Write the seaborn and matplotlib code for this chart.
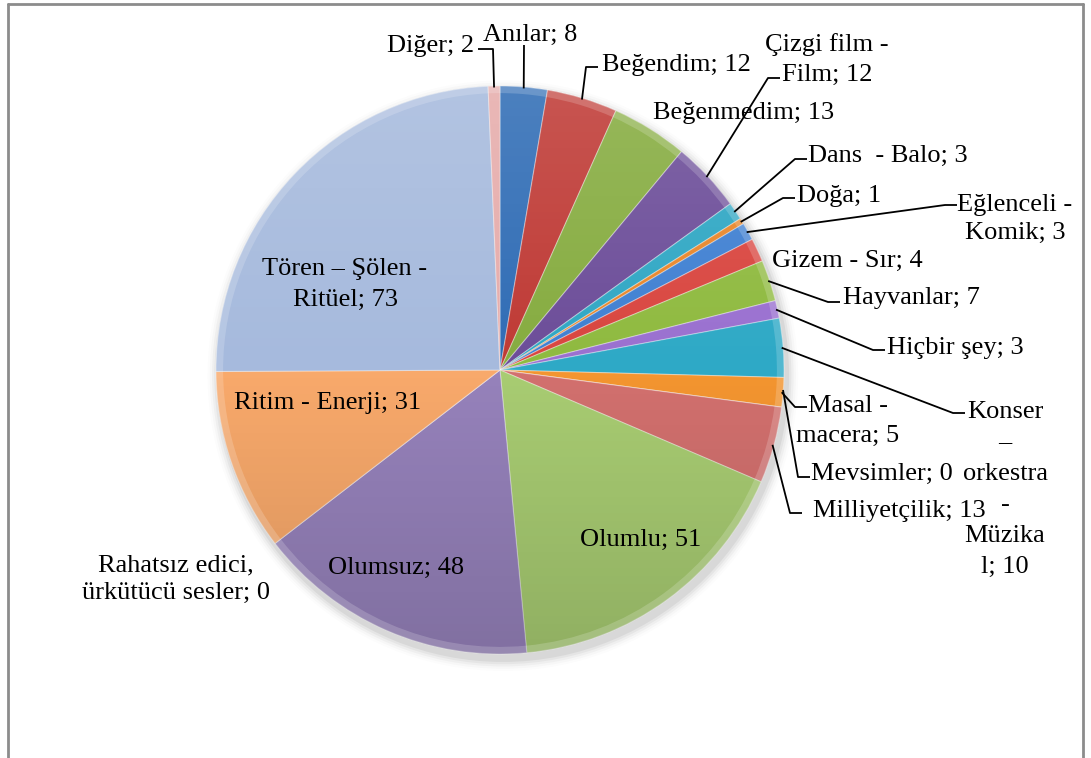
import matplotlib
matplotlib.use("Agg")
import matplotlib.pyplot as plt
from matplotlib.lines import Line2D
from matplotlib.patches import Wedge, Circle
import numpy as np
import seaborn as sns

# data (clockwise from 12 o'clock)
categories = [
    "Anılar", "Beğendim", "Beğenmedim", "Çizgi film -\nFilm", "Dans  - Balo",
    "Doğa", "Eğlenceli -\nKomik", "Gizem - Sır", "Hayvanlar", "Hiçbir şey",
    "Konser\n–\norkestra\n-\nMüzika\nl", "Masal -\nmacera", "Mevsimler", "Milliyetçilik",
    "Olumlu", "Olumsuz", "Rahatsız edici,\nürkütücü sesler", "Ritim - Enerji",
    "Tören – Şölen -\nRitüel", "Diğer",
]
counts = [8, 12, 13, 12, 3, 1, 3, 4, 7, 3, 10, 5, 0, 13, 51, 48, 0, 31, 73, 2]
slice_colors = [
    "#2f6cb5", "#bf3a35", "#86ac40", "#6c4d99", "#2fa7c4", "#e8862a",
    "#3f80d2", "#d9453f", "#8fba3f", "#9a70d0", "#2ea9c6", "#f39530",
    "#4f81bd", "#d2706e", "#a8cc72", "#9682bb", "#93cddd", "#f8a96b",
    "#a6badd", "#e6acab",
]

# layout: pie centre / radius and label anchors in pixels of the 1091x758 image
W, H = 1091, 758
CX, CY, R = 500, 370, 284


def px(x, y):
    return (x - CX) / R, (CY - y) / R


# label block centre (x, y) in px, and end of the leader at the label (None = no leader)
label_pos = {
    "Anılar": ((530, 32), (524, 45)),
    "Beğendim": ((676, 62), (598, 67)),
    "Beğenmedim": ((744, 110), None),
    "Çizgi film -\nFilm": ((827, 57), (780, 78)),
    "Dans  - Balo": ((888, 153), (807, 159)),
    "Doğa": ((839, 193), (795, 198)),
    "Eğlenceli -\nKomik": ((1015, 216), (957, 205)),
    "Gizem - Sır": ((847, 258), None),
    "Hayvanlar": ((911, 295), (840, 302)),
    "Hiçbir şey": ((955, 345), (885, 350)),
    "Konser\n–\norkestra\n-\nMüzika\nl": ((1005, 486), (965, 413)),
    "Masal -\nmacera": ((848, 418), (807, 407)),
    "Mevsimler": ((882, 471), (810, 477)),
    "Milliyetçilik": ((899, 508), (802, 513)),
    "Olumlu": ((641, 537), None),
    "Olumsuz": ((396, 565), None),
    "Rahatsız edici,\nürkütücü sesler": ((176, 576), None),
    "Ritim - Enerji": ((328, 400), None),
    "Tören – Şölen -\nRitüel": ((345, 281), None),
    "Diğer": ((431, 43), (490, 49)),
}
leader_start = {"Mevsimler": (783, 390)}
line_step = {"Konser\n–\norkestra\n-\nMüzika\nl": 31, "Rahatsız edici,\nürkütücü sesler": 27,
             "Tören – Şölen -\nRitüel": 31, "Eğlenceli -\nKomik": 28}

sns.set_theme(style="white")
plt.rcParams["font.family"] = ["Liberation Serif", "DejaVu Serif"]

fig = plt.figure(figsize=(W / 100, H / 100), dpi=100)
ax = fig.add_axes([0, 0, 1, 1])

wedges, _ = ax.pie(
    counts, colors=slice_colors, startangle=90, counterclock=False, radius=1.0,
    wedgeprops=dict(edgecolor=(1, 1, 1, 0.35), linewidth=0.8),
)

# soft shadow under the pie
for k, a in enumerate(np.linspace(0.05, 0.01, 5)):
    ax.add_patch(Circle((0.01, -0.02), 1.0 + 0.008 * (k + 1), color="black",
                        alpha=a, lw=0, zorder=0))

for w in wedges:
    w.set_zorder(2)

# lighter at the top, darker at the bottom, clipped to the pie
t = np.linspace(0, 1, 256)[:, None]
shade = np.zeros((256, 2, 4))
shade[..., :3] = np.where(t < 0.5, 1.0, 0.0)[..., None]
shade[..., 3] = np.abs(t - 0.5) * 0.28
img = ax.imshow(shade, extent=(-1, 1, -1, 1), origin="upper", zorder=3,
                interpolation="bilinear", aspect="auto")
img.set_clip_path(Circle((0, 0), 1.0, transform=ax.transData))

ax.set_xlim(-CX / R, (W - CX) / R)
ax.set_ylim(-(H - CY) / R, CY / R)
ax.set_aspect("equal", adjustable="datalim")
ax.axis("off")

# thin bevel highlight along the rim
for w in wedges:
    if w.theta2 - w.theta1 < 0.01:
        continue
    ax.add_patch(Wedge((0, 0), 1.0, w.theta1, w.theta2, width=0.025,
                       facecolor="white", alpha=0.18, lw=0, zorder=4))

fs = 19
baseline_drop = 9  # px from visual line centre down to the baseline
for w, cat, n in zip(wedges, categories, counts):
    (tx, ty), elbow = label_pos[cat]
    lines = cat.split("\n")
    lines[-1] = f"{lines[-1]}; {n}"
    step = line_step.get(cat, 30)
    y0 = ty - step * (len(lines) - 1) / 2
    for i, line in enumerate(lines):
        ax.text(*px(tx, y0 + i * step + baseline_drop), line, ha="center",
                va="baseline", fontsize=fs, zorder=6, color="black")
    if elbow is None:
        continue
    mid = np.deg2rad((w.theta1 + w.theta2) / 2)
    if cat in leader_start:
        sx, sy = px(*leader_start[cat])
    else:
        sx, sy = np.cos(mid) * 0.995, np.sin(mid) * 0.995
    ex, ey = px(*elbow)
    hook = 12 / R
    if cat == "Anılar":
        xs, ys = [sx, ex], [sy, ey]
    elif cat == "Diğer":
        xs, ys = [sx, ex + 3 / R, ex - hook], [sy, ey, ey]
    else:
        xs, ys = [sx, ex - hook, ex], [sy, ey, ey]
    ax.plot(xs, ys, color="black", lw=1.3, zorder=5, solid_capstyle="butt")

# chart frame (bottom edge is cut off in the original)
for xs, ys in [([8, 8], [758, 4]), ([1083, 1083], [758, 4]), ([8, 1083], [4, 4])]:
    fig.add_artist(Line2D([x / W for x in xs], [1 - y / H for y in ys],
                          color="#8c8c8c", lw=2.0, transform=fig.transFigure))

fig.savefig("out.png", dpi=100, facecolor="white")
